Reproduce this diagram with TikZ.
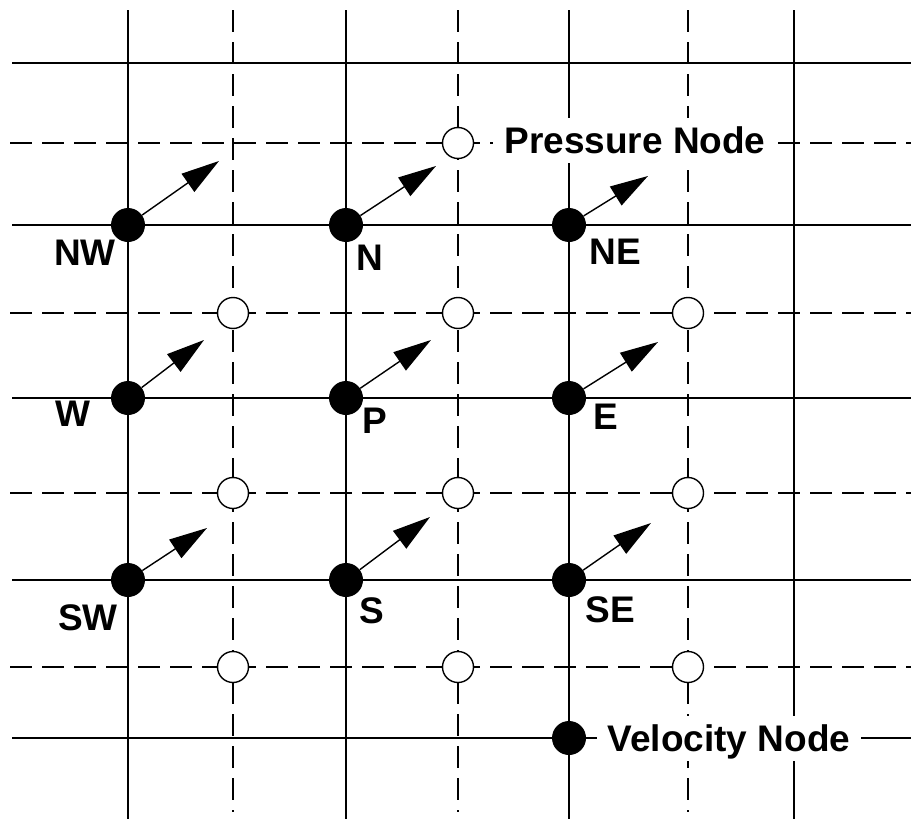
\documentclass[tikz,border=0pt]{standalone}
\usepackage{fontspec}
\setmainfont{Liberation Sans}
\usetikzlibrary{arrows.meta}
\begin{document}
\begin{tikzpicture}[x=1pt,y=-1pt,
  gridsolid/.style={line width=1.6pt},
  griddash/.style={line width=1.4pt, dash pattern=on 22pt off 10pt},
  vnode/.style={circle, fill=black, inner sep=0pt, minimum size=34pt},
  pnode/.style={circle, draw=black, fill=white, line width=1.4pt, inner sep=0pt, minimum size=31pt},
  vel/.style={line width=1.4pt, -{Triangle[length=38pt,width=22pt]}},
  lbl/.style={font=\fontsize{37}{40}\selectfont\bfseries, text height=27pt, text depth=0pt, inner sep=0pt},
  legend/.style={lbl, fill=white, inner xsep=11pt, inner ysep=9pt}]
\useasboundingbox (0,0) rectangle (911,819);
% grid lines
\foreach \x in {128,346,569,794} \draw[gridsolid] (\x,10) -- (\x,819);
\foreach \x in {233,458,688} \draw[griddash] (\x,10) -- (\x,812);
\foreach \y in {63,225,398,580,738} \draw[gridsolid] (12,\y) -- (911,\y);
\foreach \y in {143,313,493,667} \draw[griddash] (10,\y) -- (911,\y);
% legend boxes
\node[legend] (plab) at (635,140) {Pressure Node};
\node[legend] (vlab) at (729,738) {Velocity Node};
% velocity nodes
\node[vnode] (NWd) at (128,225) {};
\node[vnode] (Nd)  at (346,225) {};
\node[vnode] (NEd) at (569,225) {};
\node[vnode] (Wd)  at (128,398) {};
\node[vnode] (Pd)  at (346,398) {};
\node[vnode] (Ed)  at (569,398) {};
\node[vnode] (SWd) at (128,580) {};
\node[vnode] (Sd)  at (346,580) {};
\node[vnode] (SEd) at (569,580) {};
\node[vnode] (Vd)  at (569,738) {};
% arrow tips
\coordinate (tNW) at (219,161);
\coordinate (tN)  at (436,166);
\coordinate (tNE) at (648,176);
\coordinate (tW)  at (204,340);
\coordinate (tP)  at (431,340);
\coordinate (tE)  at (658,342);
\coordinate (tSW) at (207,528);
\coordinate (tS)  at (430,517);
\coordinate (tSE) at (651,523);
\foreach \n in {NW,N,NE,W,P,E,SW,S,SE} \draw[vel] (\n d) -- (t\n);
% pressure nodes
\node[pnode] (p0) at (458,143) {};
\node[pnode] (p1) at (233,313) {};
\node[pnode] (p2) at (458,313) {};
\node[pnode] (p3) at (688,313) {};
\node[pnode] (p4) at (233,493) {};
\node[pnode] (p5) at (458,493) {};
\node[pnode] (p6) at (688,493) {};
\node[pnode] (p7) at (233,667) {};
\node[pnode] (p8) at (458,667) {};
\node[pnode] (p9) at (688,667) {};
% labels
\node[lbl] (lNW) at (85,252) {NW};
\node[lbl] (lN)  at (370,257) {N};
\node[lbl] (lNE) at (615,251) {NE};
\node[lbl] (lW)  at (73,413) {W};
\node[lbl] (lP)  at (375,420) {P};
\node[lbl] (lE)  at (606,416) {E};
\node[lbl] (lSW) at (88,617) {SW};
\node[lbl] (lS)  at (372,610) {S};
\node[lbl] (lSE) at (610,609) {SE};
\end{tikzpicture}
\end{document}
